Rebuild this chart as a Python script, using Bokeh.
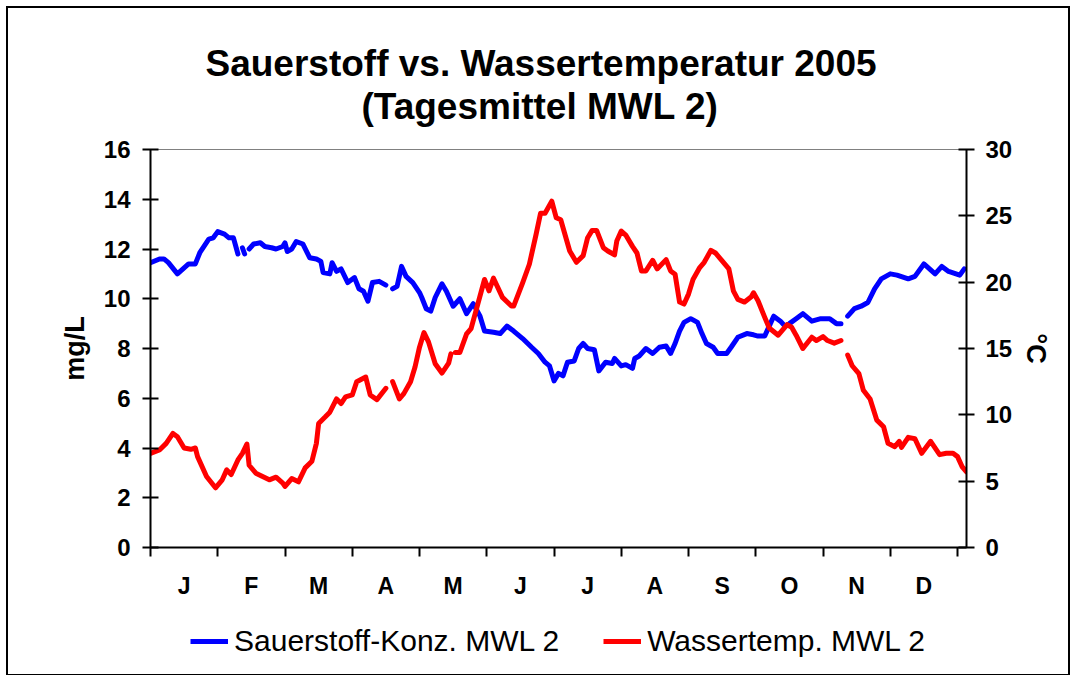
import math
from bokeh.plotting import figure
from bokeh.layouts import column
from bokeh.models import Range1d, LinearAxis, FixedTicker, Legend, LegendItem, Title
from bokeh.embed import file_html
from bokeh.resources import INLINE

NaN = float("nan")

months = ["J", "F", "M", "A", "M", "J", "J", "A", "S", "O", "N", "D"]

# Sauerstoff-Konz. MWL 2 (mg/L), x = day of year (0-based)
ox_day = [0, 4, 6, 8, 12, 17, 20, 22, 26, 28, 30, 33, 35, 37, 39, 40, 41, 42, 43, 44,
          46, 49, 51, 54, 56, 59, 60, 61, 63, 65, 68, 71, 74, 76, 77, 80, 81, 83, 85, 88,
          91, 93, 95, 97, 99, 102, 105, 106, 108, 110, 112, 114, 117, 120, 121, 123, 125, 127, 130, 132,
          135, 138, 141, 144, 147, 149, 153, 156, 159, 162, 166, 170, 173, 176, 178, 180, 182, 184, 186, 189,
          191, 193, 195, 198, 200, 203, 206, 207, 210, 212, 215, 216, 218, 221, 224, 227, 230, 232, 234, 236,
          238, 241, 244, 246, 248, 251, 253, 257, 259, 262, 266, 269, 271, 274, 276, 278, 281, 283, 285, 288,
          291, 295, 299, 303, 306, 308, 309, 311, 314, 317, 320, 323, 326, 330, 333, 338, 341, 345, 350, 353,
          356, 361, 363]
ox_val = [11.45, 11.6, 11.6, 11.45, 11.0, 11.4, 11.4, 11.85, 12.4, 12.45, 12.7, 12.6, 12.45, 12.45, 11.8, NaN, 12.05, 11.8, NaN, 12.0,
          12.2, 12.25, 12.1, 12.05, 12.0, 12.1, 12.25, 11.9, 12.0, 12.3, 12.2, 11.65, 11.6, 11.5, 11.05, 11.0, 11.45, 11.1, 11.2, 10.65,
          10.85, 10.4, 10.3, 9.9, 10.65, 10.7, 10.55, NaN, 10.4, 10.5, 11.3, 10.9, 10.65, 10.25, 10.05, 9.6, 9.5, 10.05, 10.6, 10.3,
          9.7, 10.0, 9.4, 9.8, 9.3, 8.7, 8.65, 8.6, 8.9, 8.7, 8.4, 8.05, 7.8, 7.45, 7.3, 6.7, 7.0, 6.9, 7.45, 7.5,
          8.0, 8.2, 8.0, 7.95, 7.1, 7.45, 7.4, 7.6, 7.3, 7.35, 7.2, 7.6, 7.7, 8.0, 7.8, 8.05, 8.1, 7.8, 8.2, 8.7,
          9.05, 9.2, 9.05, 8.6, 8.2, 8.05, 7.8, 7.8, 8.05, 8.45, 8.6, 8.55, 8.5, 8.5, 8.9, 9.3, 9.1, 8.9, 9.0, 9.2,
          9.4, 9.1, 9.2, 9.2, 9.0, 9.0, NaN, 9.3, 9.6, 9.7, 9.85, 10.4, 10.8, 11.0, 10.95, 10.8, 10.9, 11.4, 11.0, 11.3,
          11.1, 10.95, 11.2]

# Wassertemp. MWL 2 (°C)
wt_day = [0, 4, 7, 10, 12, 15, 18, 20, 21, 25, 29, 32, 34, 36, 39, 41, 43, 44, 47, 50,
          53, 56, 59, 60, 63, 66, 69, 72, 74, 75, 78, 80, 83, 85, 87, 90, 92, 96, 98, 101,
          105, 106, 108, 111, 113, 116, 118, 120, 122, 124, 127, 130, 133, 134, 135, 136, 138, 141, 143, 146,
          149, 151, 153, 157, 161, 162, 166, 169, 172, 174, 176, 179, 181, 183, 187, 190, 193, 195, 197, 199,
          202, 204, 207, 208, 210, 212, 215, 217, 219, 221, 224, 226, 230, 232, 234, 236, 238, 240, 242, 245,
          247, 250, 252, 255, 258, 260, 262, 265, 268, 269, 271, 274, 276, 280, 284, 286, 288, 291, 295, 297,
          300, 302, 305, 308, 309, 311, 313, 316, 318, 321, 324, 327, 329, 332, 334, 335, 338, 341, 344, 348,
          352, 355, 358, 360, 362, 364]
wt_val = [7.1, 7.35, 7.85, 8.6, 8.35, 7.5, 7.4, 7.5, 6.85, 5.35, 4.5, 5.1, 5.85, 5.5, 6.6, 7.1, 7.8, 6.2, 5.6, 5.35,
          5.1, 5.3, 4.85, 4.6, 5.2, 4.95, 6.0, 6.5, 7.85, 9.35, 9.85, 10.2, 11.2, 10.85, 11.35, 11.5, 12.5, 12.85, 11.5, 11.15,
          12.0, NaN, 12.5, 11.2, 11.6, 12.5, 13.6, 15.1, 16.2, 15.5, 13.85, 13.15, 13.9, 14.6, NaN, 14.7, 14.7, 16.1, 16.5, 18.35,
          20.2, 19.35, 20.3, 18.85, 18.2, 18.2, 19.95, 21.35, 23.6, 25.2, 25.2, 26.1, 24.85, 24.7, 22.35, 21.5, 22.0, 23.35, 23.9, 23.9,
          22.6, 22.35, 22.05, 23.1, 23.85, 23.55, 22.7, 22.2, 20.85, 20.85, 21.65, 21.0, 21.7, 20.85, 20.6, 18.5, 18.35, 19.1, 20.2, 21.1,
          21.5, 22.4, 22.2, 21.6, 21.0, 19.35, 18.7, 18.5, 18.9, 19.2, 18.6, 17.35, 16.55, 16.0, 16.8, 16.6, 16.0, 15.0, 15.85, 15.6,
          15.9, 15.6, 15.4, 15.6, NaN, 14.5, 13.7, 13.1, 11.85, 11.2, 9.6, 9.1, 7.85, 7.6, 8.0, 7.55, 8.3, 8.2, 7.1, 8.0,
          7.0, 7.1, 7.1, 6.85, 6.1, 5.7]

left_ticks = [0, 2, 4, 6, 8, 10, 12, 14, 16]
right_ticks = [0, 5, 10, 15, 20, 25, 30]
series_names = ["Sauerstoff-Konz. MWL 2", "Wassertemp. MWL 2"]
series_colors = ["#0000FF", "#FF0000"]
title_lines = ["Sauerstoff vs. Wassertemperatur 2005", "(Tagesmittel MWL 2)"]

FONT = "Liberation Sans"

p = figure(width=1060, height=600, output_backend="svg", toolbar_location=None, tools="",
           x_range=Range1d(0, 364), y_range=Range1d(0, 16),
           min_border_left=142, min_border_right=102, min_border_top=141, min_border_bottom=61)
p.extra_y_ranges = {"temp": Range1d(0, 30)}

p.xgrid.visible = False
p.ygrid.visible = False
p.outline_line_color = "#808080"
p.outline_line_width = 1
p.background_fill_color = "white"
p.border_fill_color = "white"

# above panel, stacked outward from the frame: spacer, title line 2, title line 1
# (the titles are centred on the whole chart area, not on the plot frame)
spacer = Title(text=" ", text_font=FONT, text_font_size="1px", standoff=20)
p.add_layout(spacer, "above")
t2 = Title(text=title_lines[1], align="left", offset=211, vertical_align="bottom", text_font=FONT,
           text_font_size="37px", text_font_style="bold", text_color="black", standoff=0)
p.add_layout(t2, "above")
t1 = Title(text=title_lines[0], align="left", offset=55, vertical_align="bottom", text_font=FONT,
           text_font_size="37px", text_font_style="bold", text_color="black", standoff=0)
p.add_layout(t1, "above")

# x axis: month boundaries as ticks, month letters centred between them
bounds = [30 * i for i in range(13)]
mids = [30 * i + 15 for i in range(12)]
xa = p.xaxis[0]
xa.ticker = FixedTicker(ticks=mids, minor_ticks=bounds)
xa.major_label_overrides = {m: lab for m, lab in zip(mids, months)}
xa.major_tick_in = 0
xa.major_tick_out = 0
xa.minor_tick_in = 0
xa.minor_tick_out = 9
xa.minor_tick_line_width = 2
xa.minor_tick_line_color = "black"
xa.axis_line_width = 2
xa.axis_line_color = "black"
xa.major_label_standoff = 16
xa.major_label_text_font = FONT
xa.major_label_text_font_size = "23px"
xa.major_label_text_font_style = "bold"
xa.major_label_text_color = "black"

ya = p.yaxis[0]
ya.ticker = FixedTicker(ticks=left_ticks)
ya.minor_tick_line_color = None
ya.major_tick_in = 8
ya.major_tick_out = 8
ya.major_tick_line_width = 2
ya.major_tick_line_color = "black"
ya.axis_line_width = 2
ya.axis_line_color = "black"
ya.major_label_standoff = 12
ya.major_label_text_font = FONT
ya.major_label_text_font_size = "24px"
ya.major_label_text_font_style = "bold"
ya.major_label_text_color = "black"
ya.axis_label = "mg/L"
ya.axis_label_text_font = FONT
ya.axis_label_text_font_size = "27px"
ya.axis_label_text_font_style = "bold"
ya.axis_label_text_color = "black"
ya.axis_label_standoff = 11

ra = LinearAxis(y_range_name="temp", ticker=FixedTicker(ticks=right_ticks))
ra.minor_tick_line_color = None
ra.major_tick_in = 8
ra.major_tick_out = 8
ra.major_tick_line_width = 2
ra.major_tick_line_color = "black"
ra.axis_line_width = 2
ra.axis_line_color = "black"
ra.major_label_standoff = 11
ra.major_label_text_font = FONT
ra.major_label_text_font_size = "24px"
ra.major_label_text_font_style = "bold"
ra.major_label_text_color = "black"
ra.axis_label = "°C"
ra.axis_label_text_font = FONT
ra.axis_label_text_font_size = "27px"
ra.axis_label_text_font_style = "bold"
ra.axis_label_text_color = "black"
ra.axis_label_standoff = 6
p.add_layout(ra, "right")

p.line(ox_day, ox_val, line_color=series_colors[0], line_width=5, line_join="round", line_cap="round")
p.line(wt_day, wt_val, line_color=series_colors[1], line_width=5, line_join="round", line_cap="round",
       y_range_name="temp")

# legend strip below the chart (its frame is aligned with the chart frame by the column layout)
pl = figure(width=1060, height=66, output_backend="svg", toolbar_location=None, tools="",
            x_range=Range1d(0, 1), y_range=Range1d(0, 1), min_border=0)
pl.axis.visible = False
pl.xgrid.visible = False
pl.ygrid.visible = False
pl.outline_line_color = None
pl.background_fill_color = "white"
pl.border_fill_color = "white"
items = []
for name, col in zip(series_names, series_colors):
    r = pl.line(x=[NaN], y=[NaN], line_color=col, line_width=5)
    items.append(LegendItem(label=name, renderers=[r]))
legend = Legend(items=items, orientation="horizontal", location=(40, 16))
legend.background_fill_alpha = 0
legend.border_line_alpha = 0
legend.padding = 0
legend.margin = 0
legend.spacing = 44
legend.glyph_width = 38
legend.glyph_height = 30
legend.label_standoff = 6
legend.label_text_font = FONT
legend.label_text_font_size = "30px"
legend.label_text_color = "black"
pl.add_layout(legend, "center")

layout = column(p, pl, spacing=0, styles={"margin": "8px", "outline": "2px solid black"})

open("out.html", "w").write(file_html(layout, INLINE))
